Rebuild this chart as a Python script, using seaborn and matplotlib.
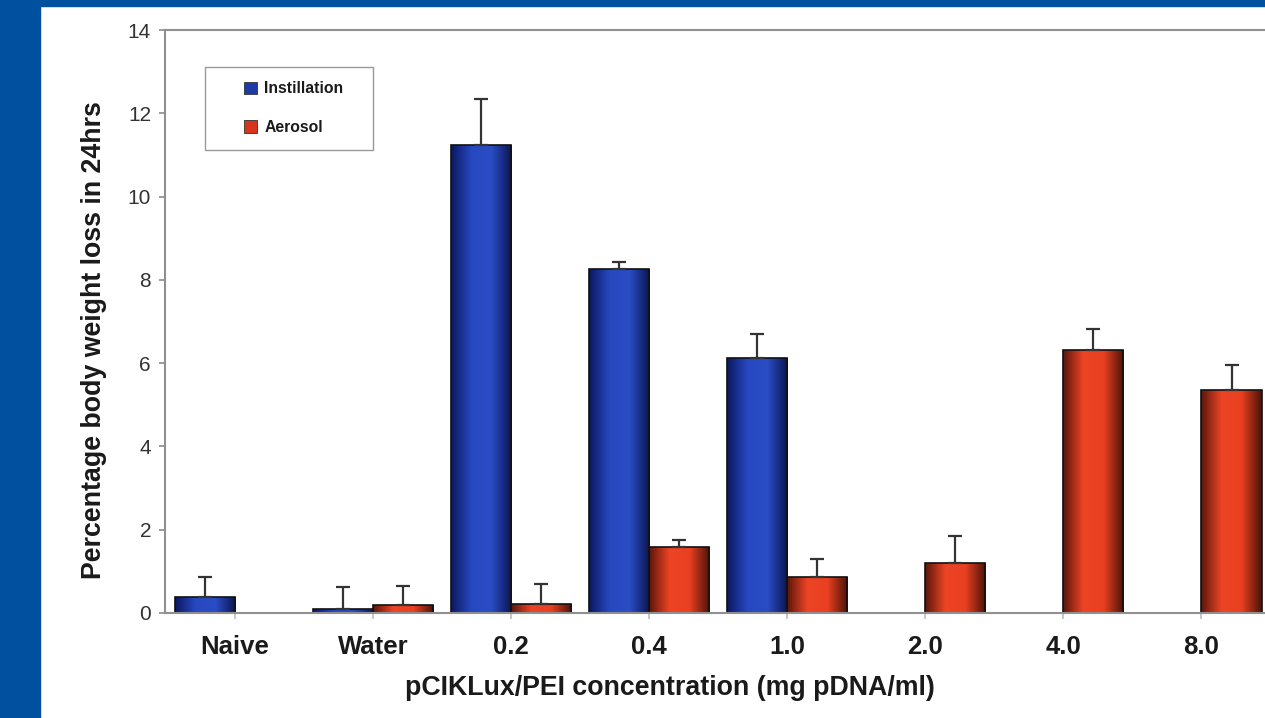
import numpy as np
import pandas as pd
import matplotlib.pyplot as plt
import seaborn as sns
from matplotlib.colors import LinearSegmentedColormap
from matplotlib.patches import Patch, Rectangle

# data
categories = ['Naive', 'Water', '0.2', '0.4', '1.0', '2.0', '4.0', '8.0']
instillation = [0.38, 0.10, 11.24, 8.26, 6.12, np.nan, np.nan, np.nan]
instillation_err = [0.48, 0.52, 1.10, 0.17, 0.58, np.nan, np.nan, np.nan]
aerosol = [np.nan, 0.20, 0.22, 1.58, 0.86, 1.20, 6.32, 5.36]
aerosol_err = [np.nan, 0.45, 0.48, 0.17, 0.43, 0.65, 0.50, 0.60]
methods = ['Instillation', 'Aerosol']

df = pd.DataFrame({
    'Concentration': categories * 2,
    'Method': ['Instillation'] * 8 + ['Aerosol'] * 8,
    'Loss': instillation + aerosol,
    'Err': instillation_err + aerosol_err,
})

sns.set_theme(style="white")
plt.rcParams['font.family'] = ['Liberation Sans', 'DejaVu Sans']

fig = plt.figure(figsize=(12.65, 7.18), dpi=100)
# blue slide frame
fig.patches.append(Rectangle((0, 0), 40 / 1265, 1, transform=fig.transFigure, color='#0050a0', zorder=0))
fig.patches.append(Rectangle((0, 1 - 6 / 718), 1, 6 / 718, transform=fig.transFigure, color='#0050a0', zorder=0))

ax = fig.add_axes([165 / 1265, 105 / 718, 1100 / 1265, 583 / 718])

colors = {'Instillation': '#1c3aa8', 'Aerosol': '#d8361c'}
sns.barplot(ax=ax, data=df.dropna(subset=['Loss']), x='Concentration', y='Loss', hue='Method',
            order=categories, hue_order=methods, palette=colors, width=0.87,
            edgecolor='#111111', linewidth=1.2, errorbar=None, legend=False)

ax.set_xlim(-0.507, 7.46)
ax.set_ylim(0, 14)

# cylinder-like shading and upward error bars
cmaps = {
    'Instillation': LinearSegmentedColormap.from_list('b', ['#0b1860', '#2748c0', '#2a4cc4', '#0a1450']),
    'Aerosol': LinearSegmentedColormap.from_list('r', ['#5a160c', '#ec4424', '#e84020', '#4a120a']),
}
grad = np.linspace(0, 1, 256).reshape(1, -1)
lookup = df.set_index(['Method', 'Concentration'])['Err']
for method, cont in zip(methods, ax.containers):
    for bar in cont:
        x0, w, h = bar.get_x(), bar.get_width(), bar.get_height()
        if not np.isfinite(h):
            continue
        im = ax.imshow(grad, cmap=cmaps[method], aspect='auto', extent=(x0, x0 + w, 0, h), zorder=bar.get_zorder() - 0.01)
        im.set_clip_path(bar)
        bar.set_facecolor('none')
        cat = categories[int(round(x0 + w / 2 + (0.25 if method == 'Instillation' else -0.25)))]
        err = lookup[(method, cat)]
        ax.errorbar(x0 + w / 2, h, yerr=[[0], [err]], fmt='none', ecolor='#333333',
                    elinewidth=1.6, capsize=5, capthick=1.6, zorder=5)

ax.set_xlim(-0.507, 7.46)
ax.set_ylim(0, 14)
ax.set_yticks(range(0, 15, 2))

for side in ['top', 'left', 'bottom']:
    ax.spines[side].set_color('#909090')
    ax.spines[side].set_linewidth(1.5)
ax.spines['right'].set_visible(False)

ax.tick_params(axis='y', which='major', left=True, length=4, color='#909090', labelsize=15, labelcolor='#333333', pad=6)
ax.tick_params(axis='x', which='major', bottom=True, length=4, color='#c0c0c0', labelsize=18.5, labelcolor='#1a1a1a', pad=12)
for t in ax.get_xticklabels():
    t.set_fontweight('bold')

ax.set_xlabel('pCIKLux/PEI concentration (mg pDNA/ml)', fontsize=19.3, fontweight='bold', color='#1a1a1a')
ax.set_ylabel('Percentage body weight loss in 24hrs', fontsize=19.3, fontweight='bold', color='#1a1a1a')
ax.xaxis.set_label_coords(505 / 1100, -62 / 583)
ax.yaxis.set_label_coords(-58 / 1100, 273 / 583)

# legend: box drawn separately so the padding matches the reference
ax.add_patch(Rectangle((40 / 1100, 463 / 583), 168 / 1100, 83 / 583, transform=ax.transAxes,
                       facecolor='white', edgecolor='#999999', linewidth=1.0, zorder=9))
handles = [Patch(facecolor=colors[m], edgecolor='#333333', linewidth=0.6) for m in methods]
leg = ax.legend(handles, methods, loc='center left', bbox_to_anchor=(79 / 1100, 505 / 583), frameon=False,
                prop={'size': 11.3, 'weight': 'bold'},
                handlelength=0.85, handleheight=0.85, labelspacing=1.5, borderpad=0,
                handletextpad=0.45, borderaxespad=0)
leg.set_zorder(10)
for tx in leg.get_texts():
    tx.set_color('#1a1a1a')

fig.savefig('out.png', dpi=100)
